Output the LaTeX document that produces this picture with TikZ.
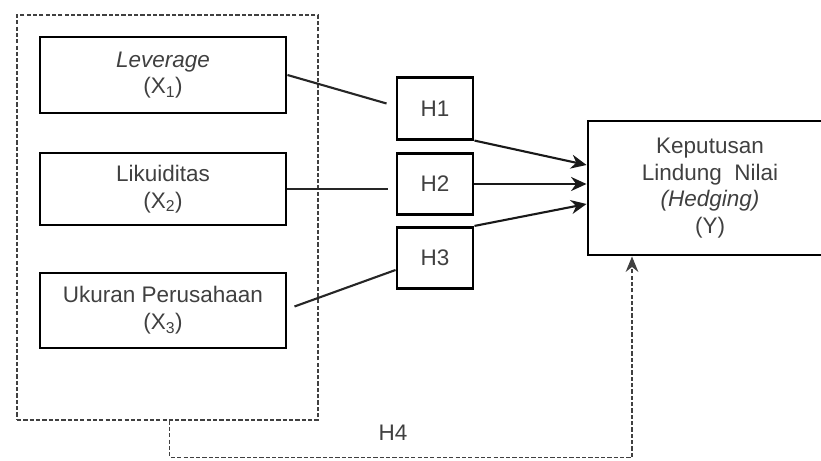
\documentclass[tikz,border=0pt]{standalone}
\usepackage{fontspec}
\setmainfont{Liberation Sans}
\usetikzlibrary{positioning, arrows.meta}

\begin{document}
\begin{tikzpicture}[
  font=\fontsize{16}{19}\selectfont,
  >=Stealth,
  %% Node styles
  varbox/.style={
    draw, line width=2.1pt, text=black!75,
    minimum width=6.15cm, align=center, inner sep=2pt
  },
  hypbox/.style={
    draw, line width=2.1pt, text=black!75,
    minimum width=1.9cm, minimum height=1.53cm, inner sep=2pt
  },
  outbox/.style={
    draw, line width=2.1pt, text=black!75,
    minimum width=6.1cm, minimum height=3.35cm, align=center
  },
  group/.style={
    draw=black!75, line width=0.8pt, dash pattern=on 3pt off 1.5pt,
    minimum width=7.525cm, minimum height=10.125cm
  },
  link/.style={line width=1.5pt, draw=black!85},
  effect/.style={line width=1.5pt, draw=black!90,
    arrows={-Stealth[length=11pt, width=10pt]}},
  joint/.style={line width=0.8pt, draw=black!75, dash pattern=on 3pt off 1.5pt,
    arrows={-Stealth[length=11pt, width=9pt]}},
]

\useasboundingbox (0,0) rectangle (20.525,-11.525);

%% ── INDEPENDENT VARIABLES ─────────────────────────────────────────────────
\node[group] (grp) at (4.1875,-5.4375) {};

\node[varbox, minimum height=1.9cm]   (lev) at (4.075,-1.875)
  {\textit{Leverage}\\(X\textsubscript{1})};
\node[varbox, minimum height=1.8cm]   (lik) at (4.075,-4.725)
  {Likuiditas\\(X\textsubscript{2})};
\node[varbox, minimum height=1.875cm] (ukr) at (4.075,-7.7625)
  {Ukuran Perusahaan\\(X\textsubscript{3})};

%% ── HYPOTHESES ────────────────────────────────────────────────────────────
\node[hypbox] (h1) at (10.875,-2.7125) {H1};
\node[hypbox] (h2) at (10.875,-4.6)    {H2};
\node[hypbox] (h3) at (10.875,-6.45)   {H3};

%% ── DEPENDENT VARIABLE ────────────────────────────────────────────────────
\node[outbox] (hdg) at (17.75,-4.7)
  {Keputusan\\Lindung\ \ Nilai\\\textit{(Hedging)}\\(Y)};

%% X → H lines
\draw[link] (lev.east) -- ([xshift=-0.225cm, yshift=0.125cm]h1.west);
\draw[link] (lik.east) -- ([xshift=-0.2cm]lik.east -| h2.west);
\draw[link] ([xshift=0.175cm, yshift=0.1cm]ukr.east) -- ([yshift=-0.3cm]h3.west);

%% H → Y arrows
\draw[effect] (h1.south east) -- ([yshift=0.575cm]hdg.west);
\draw[effect] (h2.east) -- (h2.east -| hdg.west);
\draw[effect] (h3.north east) -- ([yshift=-0.4cm]hdg.west);

%% joint effect H4
\coordinate (hdgin) at ([xshift=-1.95cm]hdg.south);
\draw[joint] ([xshift=0.06cm]grp.south) -- ++(0,-0.925) -| (hdgin);
\node[text=black!75] (h4) at (9.825,-10.825) {H4};

\end{tikzpicture}
\end{document}
